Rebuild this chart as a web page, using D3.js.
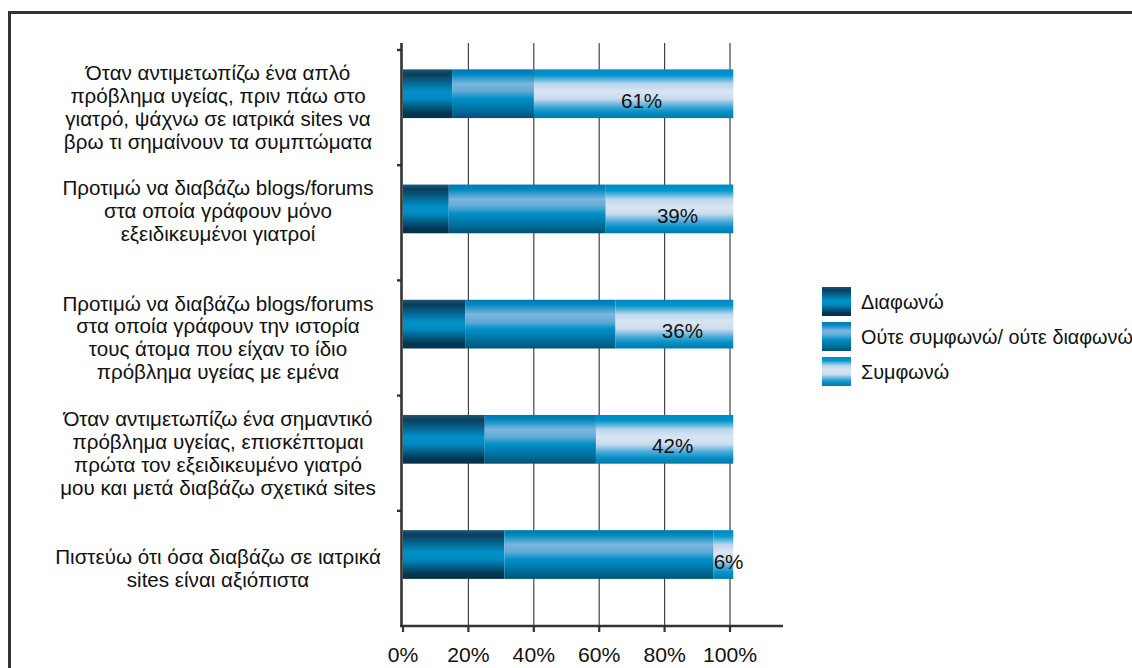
<!DOCTYPE html>
<html>
<head>
<meta charset="utf-8">
<script src="https://cdn.jsdelivr.net/npm/d3@7"></script>
<style>
  html, body { margin: 0; padding: 0; background: #fff; }
  svg { display: block; }
  text { font-family: "Liberation Sans", Arial, Helvetica, sans-serif; fill: #111; }
</style>
</head>
<body>
<svg id="chart" width="1132" height="668"></svg>
<script>
// Survey statements (each line of a label is a separate string)
const statements = [
  ["Όταν αντιμετωπίζω ένα απλό", "πρόβλημα υγείας, πριν πάω στο", "γιατρό, ψάχνω σε ιατρικά sites να", "βρω τι σημαίνουν τα συμπτώματα"],
  ["Προτιμώ να διαβάζω blogs/forums", "στα οποία γράφουν μόνο", "εξειδικευμένοι γιατροί", ""],
  ["Προτιμώ να διαβάζω blogs/forums", "στα οποία γράφουν την ιστορία", "τους άτομα που είχαν το ίδιο", "πρόβλημα υγείας με εμένα"],
  ["Όταν αντιμετωπίζω ένα σημαντικό", "πρόβλημα υγείας, επισκέπτομαι", "πρώτα τον εξειδικευμένο γιατρό", "μου και μετά διαβάζω σχετικά sites"],
  ["Πιστεύω ότι όσα διαβάζω σε ιατρικά", "sites είναι αξιόπιστα"]
];
const seriesNames = ["Διαφωνώ", "Ούτε συμφωνώ/ ούτε διαφωνώ", "Συμφωνώ"];
// Percentages per statement
const disagree = [15, 14, 19, 25, 31];
const neutral  = [25, 48, 46, 34, 64];
const agree    = [61, 39, 36, 42, 6];
const xTicks   = [0, 20, 40, 60, 80, 100];

const FS = 20;        // font size
const SX = 1.03;      // slight horizontal stretch of the typeface

const svg = d3.select("#chart");

// Frame
svg.append("rect")
  .attr("x", 9.5).attr("y", 12.5)
  .attr("width", 1200).attr("height", 700)
  .attr("fill", "none").attr("stroke", "#333").attr("stroke-width", 3);

// Gradients for the three answer groups
const defs = svg.append("defs");
const gradStops = [
  [[0, "#1a5878"], [0.1, "#0b3d5a"], [0.45, "#0090c8"], [0.6, "#008bc2"], [0.9, "#023650"], [1, "#00324c"]],
  [[0, "#0078ae"], [0.1, "#0088c0"], [0.3, "#7ab6dd"], [0.45, "#62aad5"], [0.6, "#0090c8"], [0.85, "#006c9a"], [1, "#005274"]],
  [[0, "#0088c0"], [0.12, "#0096cc"], [0.3, "#bcd6ec"], [0.45, "#d8e5f2"], [0.6, "#cadcee"], [0.76, "#4aaad8"], [0.88, "#0090c8"], [1, "#0079aa"]]
];
gradStops.forEach((stops, i) => {
  const g = defs.append("linearGradient")
    .attr("id", "grad" + i)
    .attr("x1", 0).attr("y1", 0).attr("x2", 0).attr("y2", 1);
  stops.forEach(([o, c]) => g.append("stop").attr("offset", o).attr("stop-color", c));
});

// Scales
const x = d3.scaleLinear().domain([0, 100]).range([403, 730]);
const y = d3.scaleBand().domain(d3.range(statements.length)).range([50, 626]).padding(0);
const bw = y.bandwidth();
const barTop = i => y(i) + bw * 0.168;
const barH = bw * 0.423;

// Helper: stretched text placed at (tx, ty)
function stretchedText(sel, tx, ty, sx = SX) {
  return sel.attr("transform", (d, i) => `translate(${tx(d, i)},${ty(d, i)}) scale(${sx},1)`);
}

// Vertical gridlines
svg.append("g").selectAll("line")
  .data(xTicks.filter(t => t > 0))
  .join("line")
  .attr("x1", d => x(d)).attr("x2", d => x(d))
  .attr("y1", 43).attr("y2", 626)
  .attr("stroke", "#444").attr("stroke-width", 1.2);

// Stacked bars
const rows = d3.range(statements.length).map(i => ({ i, values: [disagree[i], neutral[i], agree[i]] }));
const stack = d3.stack().keys([0, 1, 2]).value((d, k) => d.values[k]);
const layers = stack(rows);

svg.append("g").selectAll("g")
  .data(layers)
  .join("g")
  .attr("fill", (d, k) => `url(#grad${k})`)
  .selectAll("rect")
  .data(d => d)
  .join("rect")
  .attr("x", d => x(d[0]))
  .attr("width", d => x(d[1]) - x(d[0]))
  .attr("y", d => barTop(d.data.i))
  .attr("height", barH);

// Value labels for the "agree" segment
svg.append("g").selectAll("text")
  .data(layers[2])
  .join("text")
  .attr("font-size", FS)
  .text(d => agree[d.data.i] + "%")
  .each(function (d) {
    const t = d3.select(this);
    const x0 = x(d[0]), x1 = x(d[1]);
    const w = this.getComputedTextLength() * SX;
    const ty = barTop(d.data.i) + barH / 2 + 14;
    if (x1 - x0 < w + 4) {
      t.attr("text-anchor", "start")
       .attr("transform", `translate(${x0},${ty}) scale(${SX},1)`);
    } else {
      t.attr("text-anchor", "middle")
       .attr("transform", `translate(${(x0 + x1) / 2 + 8},${ty}) scale(${SX},1)`);
    }
  });

// Category labels
const lineH = 23;
const labels = stretchedText(
  svg.append("g").selectAll("text")
    .data(statements)
    .join("text")
    .attr("text-anchor", "middle")
    .attr("font-size", FS),
  () => 218,
  (d, i) => y(i) + bw / 2 - (d.length - 1) * lineH / 2 + 7
);
labels.selectAll("tspan")
  .data(d => d)
  .join("tspan")
  .attr("x", 0)
  .attr("y", (d, j) => j * lineH)
  .text(d => d);

// Y axis with boundary ticks
svg.append("line")
  .attr("x1", 401.5).attr("x2", 401.5).attr("y1", 43).attr("y2", 627)
  .attr("stroke", "#333").attr("stroke-width", 2.6);
svg.append("g").selectAll("line")
  .data(d3.range(statements.length))
  .join("line")
  .attr("x1", 397).attr("x2", 401)
  .attr("y1", d => y(d)).attr("y2", d => y(d))
  .attr("stroke", "#333").attr("stroke-width", 2.4);

// X axis
const xAxis = svg.append("g").attr("transform", "translate(0,626)");
xAxis.append("line")
  .attr("x1", 400).attr("x2", 783)
  .attr("stroke", "#333").attr("stroke-width", 2.6);
xAxis.selectAll("line.tick")
  .data(xTicks)
  .join("line")
  .attr("class", "tick")
  .attr("x1", d => x(d)).attr("x2", d => x(d))
  .attr("y1", 0).attr("y2", 6)
  .attr("stroke", "#333").attr("stroke-width", 2.2);
stretchedText(
  xAxis.selectAll("text")
    .data(xTicks)
    .join("text")
    .attr("text-anchor", "middle")
    .attr("font-size", FS)
    .text(d => d + "%"),
  d => x(d),
  () => 36,
  1.06
);

// Legend
const legend = svg.append("g").attr("transform", "translate(822,287)");
const item = legend.selectAll("g")
  .data(seriesNames)
  .join("g")
  .attr("transform", (d, i) => `translate(0, ${i * 35})`);
item.append("rect")
  .attr("width", 29).attr("height", 29)
  .attr("fill", (d, i) => `url(#grad${i})`);
stretchedText(
  item.append("text")
    .attr("font-size", FS)
    .text(d => d),
  () => 39,
  () => 22,
  0.99
);
</script>
</body>
</html>
